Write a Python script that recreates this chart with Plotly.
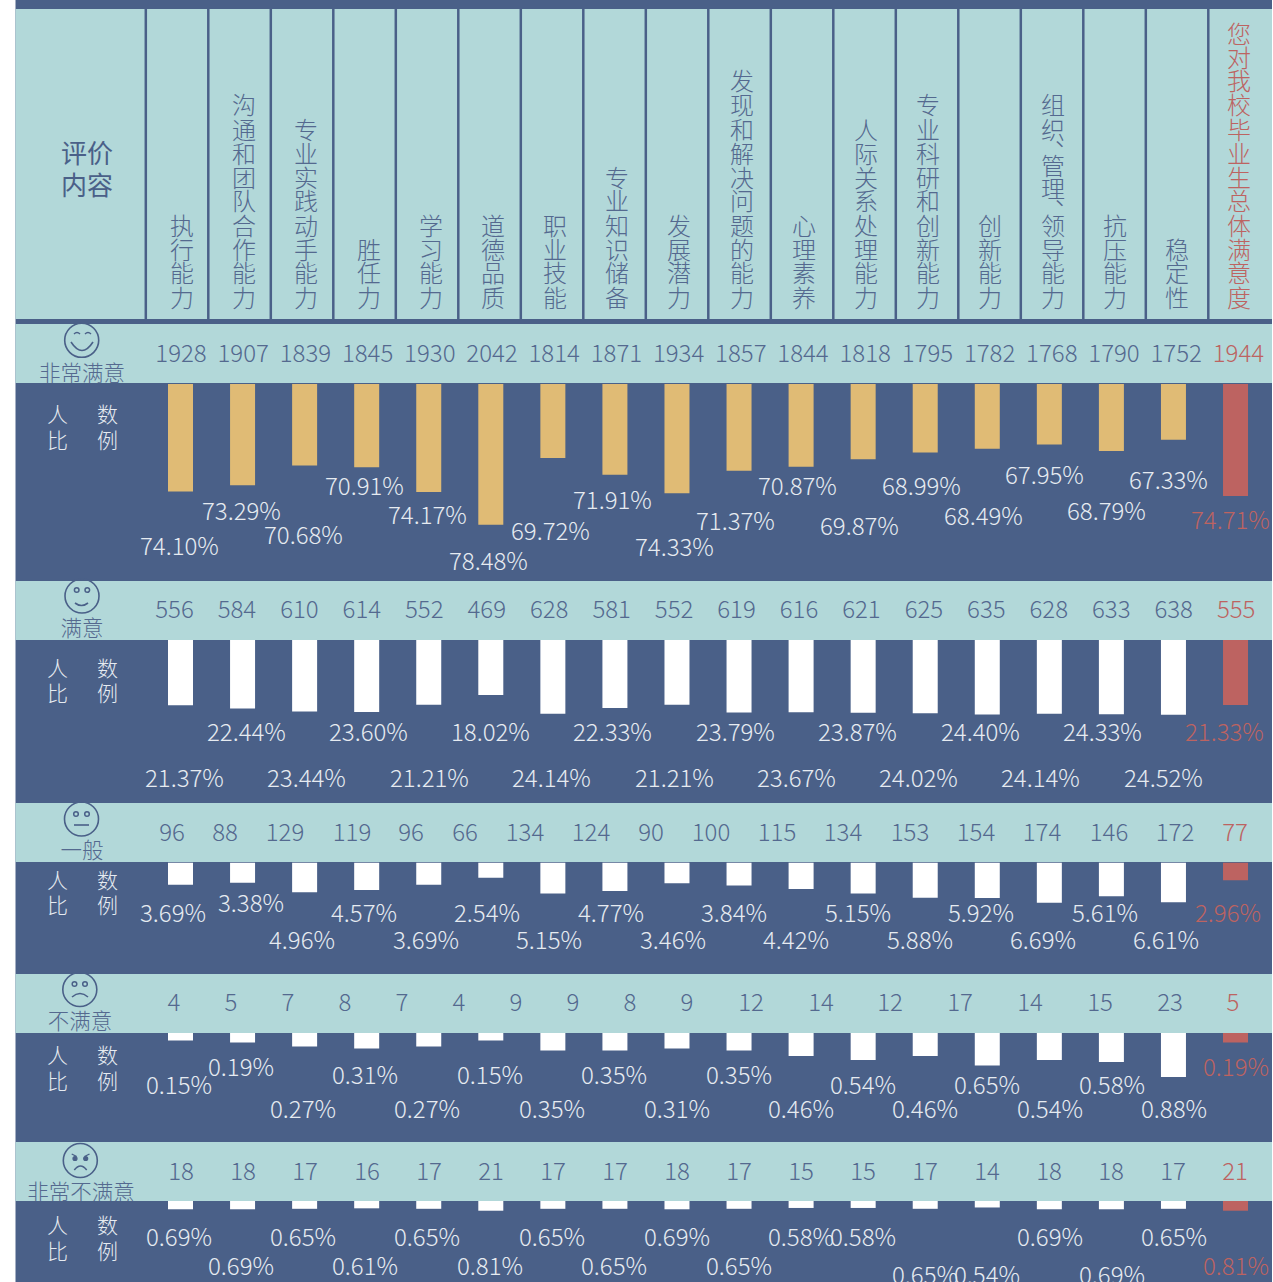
import plotly.graph_objects as go

# ---------- data ----------
criteria = ["执行能力", "沟通和团队合作能力", "专业实践动手能力", "胜任力", "学习能力", "道德品质",
            "职业技能", "专业知识储备", "发展潜力", "发现和解决问题的能力", "心理素养", "人际关系处理能力",
            "专业科研和创新能力", "创新能力", "组织、管理、领导能力", "抗压能力", "稳定性", "您对我校毕业生总体满意度"]
row_names = ["非常满意", "满意", "一般", "不满意", "非常不满意"]

counts_vs = [1928, 1907, 1839, 1845, 1930, 2042, 1814, 1871, 1934, 1857, 1844, 1818, 1795, 1782, 1768, 1790, 1752, 1944]
counts_s = [556, 584, 610, 614, 552, 469, 628, 581, 552, 619, 616, 621, 625, 635, 628, 633, 638, 555]
counts_n = [96, 88, 129, 119, 96, 66, 134, 124, 90, 100, 115, 134, 153, 154, 174, 146, 172, 77]
counts_d = [4, 5, 7, 8, 7, 4, 9, 9, 8, 9, 12, 14, 12, 17, 14, 15, 23, 5]
counts_vd = [18, 18, 17, 16, 17, 21, 17, 17, 18, 17, 15, 15, 17, 14, 18, 18, 17, 21]

pct_vs = [74.10, 73.29, 70.68, 70.91, 74.17, 78.48, 69.72, 71.91, 74.33, 71.37, 70.87, 69.87, 68.99, 68.49, 67.95, 68.79, 67.33, 74.71]
pct_s = [21.37, 22.44, 23.44, 23.60, 21.21, 18.02, 24.14, 22.33, 21.21, 23.79, 23.67, 23.87, 24.02, 24.40, 24.14, 24.33, 24.52, 21.33]
pct_n = [3.69, 3.38, 4.96, 4.57, 3.69, 2.54, 5.15, 4.77, 3.46, 3.84, 4.42, 5.15, 5.88, 5.92, 6.69, 5.61, 6.61, 2.96]
pct_d = [0.15, 0.19, 0.27, 0.31, 0.27, 0.15, 0.35, 0.35, 0.31, 0.35, 0.46, 0.54, 0.46, 0.65, 0.54, 0.58, 0.88, 0.19]
pct_vd = [0.69, 0.69, 0.65, 0.61, 0.65, 0.81, 0.65, 0.65, 0.69, 0.65, 0.58, 0.58, 0.65, 0.54, 0.69, 0.69, 0.65, 0.81]

# ---------- layout (pixel) ----------
W, H = 1273, 1282
DARK, TEAL, GOLD, RED = "#4a6088", "#b2d8d9", "#e0bb75", "#bd6361"
NUM, PALE = "#54698f", "#e6ebf1"
FONT = "Noto Sans CJK SC"
L, R = 15.5, 1272

count_x = [
    [181 + 62.2 * i for i in range(18)],
    [174.5 + 62.45 * i for i in range(18)],
    [172, 225, 285, 352, 411, 465, 525, 591, 651, 711, 777, 843, 910, 976, 1042, 1109, 1175, 1235],
    [174, 231, 288, 345, 402, 459, 516, 573, 630, 687, 751, 821, 890, 960, 1030, 1100, 1170, 1233],
    [181 + 62 * i for i in range(18)],
]
count_y = [356, 612, 835, 1005, 1174]
label_y = [375.5, 630.5, 852.5, 1023.5, 1194.5]
label_x = [82, 82, 82, 80, 81]
ppl_y = [(413, 439), (667, 692), (879, 904), (1054, 1080), (1224, 1250)]

pct_x = [
    [179, 241, 303, 365, 427, 488, 550, 612, 674, 735, 797, 859, 921, 983, 1044, 1106, 1168, 1230],
    [184, 246, 306, 368, 429, 490, 551, 612, 674, 735, 796, 857, 918, 980, 1040, 1102, 1163, 1224],
    [173, 251, 302, 364, 426, 487, 549, 611, 673, 734, 796, 858, 920, 981, 1043, 1105, 1166, 1228],
    [179, 241, 303, 365, 427, 490, 552, 614, 677, 739, 801, 863, 925, 987, 1050, 1112, 1174, 1236],
    [179, 241, 303, 365, 427, 490, 552, 614, 677, 739, 801, 863, 925, 987, 1050, 1112, 1174, 1236],
]
pct_y = [
    [544, 509, 533, 484, 513, 559, 530, 498, 545, 519, 484, 524, 484, 514, 473, 509, 479, 518],
    [776, 730] * 9,
    [911, 901, 939, 911, 939, 911, 939, 911, 939, 911, 939, 911, 939, 911, 939, 911, 939, 911],
    [1083, 1065, 1107, 1073, 1107, 1073, 1107, 1073, 1107, 1073, 1107, 1083, 1107, 1083, 1107, 1083, 1107, 1065],
    [1235, 1264, 1235, 1264, 1235, 1264, 1235, 1264, 1235, 1264, 1235, 1235, 1273, 1273, 1235, 1273, 1235, 1264],
]

teal_bands = [(9, 319), (324, 383), (581, 640), (803, 862), (974, 1033), (1142, 1201)]
# (top pixel, pixel bottom, axis value at top, px per unit)
bar_rows = [(384, 581, 60, 7.62), (640, 803, 0, 3.05), (862.5, 974, 0, 6.0), (1033, 1142, 0, 50.0), (1201, 1282, 0, 12.0)]
band_px = teal_bands[1:]

bar_x0, bar_step, bar_w = 180.5, 62.06, 25


def px(x):
    return x / W


def py(y):
    return 1 - y / H


fig = go.Figure()
all_counts = [counts_vs, counts_s, counts_n, counts_d, counts_vd]
all_pcts = [pct_vs, pct_s, pct_n, pct_d, pct_vd]

layout_axes = {}
hidden = dict(visible=False, fixedrange=True)
layout_axes["xaxis"] = dict(hidden, domain=[0, 1], range=[(0 - bar_x0) / bar_step, (W - bar_x0) / bar_step])
layout_axes["xaxis2"] = dict(hidden, domain=[0, 1], range=[0, W])

for r in range(5):
    top, bot, v0, scale = bar_rows[r]
    colours = [GOLD if r == 0 else "#ffffff"] * 17 + [RED]
    ya = f"y{2 * r + 1}"
    fig.add_trace(go.Bar(x=list(range(18)), y=all_pcts[r], width=bar_w / bar_step,
                         marker=dict(color=colours, line=dict(width=0)),
                         xaxis="x", yaxis=ya, showlegend=False, hoverinfo="skip"))
    layout_axes[f"yaxis{2 * r + 1}"] = dict(hidden, domain=[py(bot), py(top)],
                                            range=[v0 + (bot - top) / scale, v0], anchor="x")
    btop, bbot = band_px[r]
    yb = f"y{2 * r + 2}"
    layout_axes[f"yaxis{2 * r + 2}"] = dict(hidden, domain=[py(bbot), py(btop)],
                                            range=[bbot, btop], anchor="x2")
    # counts on the teal band
    fig.add_trace(go.Scatter(x=count_x[r], y=[count_y[r]] * 18, text=[str(c) for c in all_counts[r]],
                             mode="text", textposition="middle center",
                             textfont=dict(family=FONT, size=24, weight=300, color=[NUM] * 17 + [RED]),
                             xaxis="x2", yaxis=yb, showlegend=False, hoverinfo="skip", cliponaxis=False))
    # row name, clipped by the band
    fig.add_trace(go.Scatter(x=[label_x[r]], y=[label_y[r]], text=[row_names[r]],
                             mode="text", textposition="middle center",
                             textfont=dict(family=FONT, size=21.5, weight=300, color=NUM),
                             xaxis="x2", yaxis=yb, showlegend=False, hoverinfo="skip", cliponaxis=True))

shapes = []
# background
shapes.append(dict(type="rect", xref="paper", yref="paper", x0=px(L), x1=px(R), y0=0, y1=1,
                   fillcolor=DARK, line=dict(width=0), layer="below"))
for t, b in teal_bands:
    shapes.append(dict(type="rect", xref="paper", yref="paper", x0=px(L), x1=px(R), y0=py(b), y1=py(t),
                       fillcolor=TEAL, line=dict(width=0), layer="below"))
for i in range(18):
    x = 145.8 + 62.5 * i
    shapes.append(dict(type="line", xref="paper", yref="paper", x0=px(x), x1=px(x), y0=py(9), y1=py(319),
                       line=dict(color=DARK, width=2.5), layer="below"))


def path(points_cmd):
    out = []
    for item in points_cmd:
        if isinstance(item, str):
            out.append(item)
        else:
            out.append(f"{px(item[0]):.6f},{py(item[1]):.6f}")
    return " ".join(out)


def stroke_path(cmd, width=1.6):
    shapes.append(dict(type="path", xref="paper", yref="paper", path=path(cmd),
                       line=dict(color=DARK, width=width), layer="above"))


def ring(cx, cy, rad, width=1.6, fill=None):
    shapes.append(dict(type="circle", xref="paper", yref="paper", x0=px(cx - rad), x1=px(cx + rad),
                       y0=py(cy + rad), y1=py(cy - rad), fillcolor=fill or "rgba(0,0,0,0)",
                       line=dict(color=DARK, width=width), layer="above"))


# very satisfied
ring(81.7, 340.3, 17)
stroke_path(["M", (74, 334), "Q", (77, 331), (80, 334)], 1.4)
stroke_path(["M", (85, 334), "Q", (88, 331), (91, 334)], 1.4)
stroke_path(["M", (71, 342), "Q", (82, 359), (93, 342)], 1.6)
# satisfied
ring(82, 596, 17)
ring(76.7, 590, 2.3, 1.5)
ring(87.3, 590, 2.3, 1.5)
stroke_path(["M", (75, 603), "Q", (81.5, 608), (88, 603)], 1.6)
# neutral
ring(81.5, 819, 17)
ring(76, 814, 2.3, 1.5)
ring(87, 814, 2.3, 1.5)
stroke_path(["M", (74, 825), "L", (89, 825)], 1.6)
# dissatisfied
ring(79.8, 989.5, 17)
ring(74.5, 984, 2.3, 1.5)
ring(85, 984, 2.3, 1.5)
stroke_path(["M", (72, 997), "Q", (80, 990), (88, 997)], 1.6)
# very dissatisfied
ring(80.3, 1160.5, 17)
ring(75, 1158.5, 2.0, 1.2, DARK)
ring(85.7, 1158.5, 2.0, 1.2, DARK)
stroke_path(["M", (71.7, 1154), "L", (76.7, 1156.5)], 1.3)
stroke_path(["M", (89.5, 1154), "L", (84.5, 1156.5)], 1.3)
stroke_path(["M", (74.3, 1170), "Q", (80.5, 1162), (86.7, 1170)], 1.6)

ann = []


def text(x, y, s, size, color, weight=300):
    ann.append(dict(xref="paper", yref="paper", x=px(x), y=py(y), text=s, showarrow=False,
                    xanchor="center", yanchor="middle",
                    font=dict(family=FONT, size=size, color=color, weight=weight)))


# header
text(87, 168, "<span style='font-size:26px'>评价</span><br><span style='font-size:26px'>内容</span>", 24.6, DARK, 400)
for i, lab in enumerate(criteria):
    cx = 182 + 62.18 * i
    col = RED if i == 17 else NUM
    y = 296
    for ch in reversed(lab):
        if ch == "、":
            text(cx + 14, y - 5, ch, 24, col)
            y -= 12
            continue
        text(cx, y, ch, 24, col)
        y -= 24

# percent labels
for r in range(5):
    for i in range(18):
        text(pct_x[r][i], pct_y[r][i], f"{all_pcts[r][i]:.2f}%", 24, RED if i == 17 else PALE)
    text(57.5, ppl_y[r][0], "人", 21, PALE)
    text(107, ppl_y[r][0], "数", 21, PALE)
    text(57.5, ppl_y[r][1], "比", 21, PALE)
    text(107, ppl_y[r][1], "例", 21, PALE)

fig.update_layout(width=W, height=H, margin=dict(l=0, r=0, t=0, b=0), autosize=False,
                  paper_bgcolor="#ffffff", plot_bgcolor="rgba(0,0,0,0)", showlegend=False,
                  barmode="overlay", shapes=shapes, annotations=ann, **layout_axes)
fig.write_html("out.html", config=dict(displayModeBar=False),
               post_script="document.body.style.margin='0';document.body.style.overflow='hidden';")
